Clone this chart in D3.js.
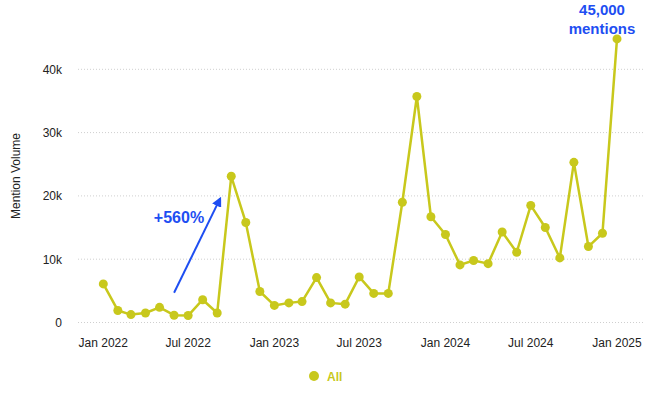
<!DOCTYPE html>
<html><head><meta charset="utf-8">
<script src="https://cdn.jsdelivr.net/npm/d3@7"></script>
<style>
html,body{margin:0;padding:0;background:#fff;}
svg{display:block;font-family:"Liberation Sans",Arial,Helvetica,sans-serif;}
</style></head>
<body><svg id="chart" width="649" height="399"></svg>
<script>
const months = ["2022-01","2022-02","2022-03","2022-04","2022-05","2022-06","2022-07","2022-08","2022-09","2022-10","2022-11","2022-12",
"2023-01","2023-02","2023-03","2023-04","2023-05","2023-06","2023-07","2023-08","2023-09","2023-10","2023-11","2023-12",
"2024-01","2024-02","2024-03","2024-04","2024-05","2024-06","2024-07","2024-08","2024-09","2024-10","2024-11","2024-12","2025-01"];
const mentions = [6100,1900,1250,1500,2400,1150,1100,3600,1500,23100,15800,
4900,2700,3100,3300,7100,3100,2900,7200,4600,4600,19000,35700,16700,
13900,9100,9800,9300,14300,11100,18500,15000,10200,25300,12000,14100,44800];
const yTicks = [0,10000,20000,30000,40000];
const xTickLabels = ["2022-01","2022-07","2023-01","2023-07","2024-01","2024-07","2025-01"];
const seriesName = "All";
const annotationGrowth = "+560%";
const annotationPeak = ["45,000","mentions"];

const parse = d3.timeParse("%Y-%m");
const data = months.map((m,i)=>({date:parse(m), value:mentions[i]}));

const svg = d3.select("#chart");
const lineColor = "#c8c81c";
const blue = "#1e4ef2";

const x = d3.scaleTime().domain([parse("2022-01"), parse("2025-01")]).range([103.3, 617]);
const y = d3.scaleLinear().domain([0,40000]).range([322.5, 69.3]);

// gridlines
svg.append("g").selectAll("line").data(yTicks).join("line")
  .attr("x1",78).attr("x2",644)
  .attr("y1",d=>y(d)).attr("y2",d=>y(d))
  .attr("stroke","#cfcfcf").attr("stroke-width",1).attr("stroke-dasharray","1,2");

// y labels
svg.append("g").selectAll("text").data(yTicks).join("text")
  .attr("x",62).attr("y",d=>y(d)+4.5)
  .attr("text-anchor","end").attr("font-size",12).attr("fill","#222")
  .text(d=> d===0 ? "0" : d3.format("d")(d/1000)+"k");

// x labels
svg.append("g").selectAll("text").data(xTickLabels).join("text")
  .attr("x",d=>x(parse(d))).attr("y",347)
  .attr("text-anchor","middle").attr("font-size",12).attr("fill","#222")
  .text(d=>d3.timeFormat("%b %Y")(parse(d)));

// y title
svg.append("text").attr("transform","translate(20,176) rotate(-90)")
  .attr("text-anchor","middle").attr("font-size",12).attr("fill","#222")
  .text("Mention Volume");

// line
const line = d3.line().x(d=>x(d.date)).y(d=>y(d.value));
svg.append("path").datum(data).attr("d",line)
  .attr("fill","none").attr("stroke",lineColor).attr("stroke-width",2.5).attr("stroke-linejoin","round");
svg.append("g").selectAll("circle").data(data).join("circle")
  .attr("cx",d=>x(d.date)).attr("cy",d=>y(d.value)).attr("r",4.5).attr("fill",lineColor);

// arrow annotation
const defs = svg.append("defs");
defs.append("marker").attr("id","arr").attr("viewBox","0 0 10 10").attr("refX",8).attr("refY",5)
  .attr("markerWidth",5).attr("markerHeight",5).attr("orient","auto")
  .append("path").attr("d","M0,0 L10,5 L0,10 z").attr("fill",blue);
const a0 = data[5], a1 = data[8];
svg.append("line")
  .attr("x1",x(a0.date)).attr("y1",y(4700))
  .attr("x2",x(a1.date)+3).attr("y2",y(19600))
  .attr("stroke",blue).attr("stroke-width",2).attr("marker-end","url(#arr)");
svg.append("text").attr("x",179).attr("y",223).attr("text-anchor","middle")
  .attr("font-size",16).attr("font-weight","bold").attr("fill",blue).text(annotationGrowth);

// peak annotation
const last = data[data.length-1];
svg.append("text").attr("x",x(last.date)-15).attr("y",15).attr("text-anchor","middle")
  .attr("font-size",15).attr("font-weight","bold").attr("fill",blue)
  .selectAll("tspan").data(annotationPeak).join("tspan")
  .attr("x",x(last.date)-15).attr("dy",(d,i)=> i===0?0:19).text(d=>d);

// legend
svg.append("circle").attr("cx",314).attr("cy",376).attr("r",5).attr("fill",lineColor);
svg.append("text").attr("x",327).attr("y",380.5).attr("font-size",12).attr("font-weight","bold")
  .attr("fill",lineColor).text(seriesName);
</script></body></html>
